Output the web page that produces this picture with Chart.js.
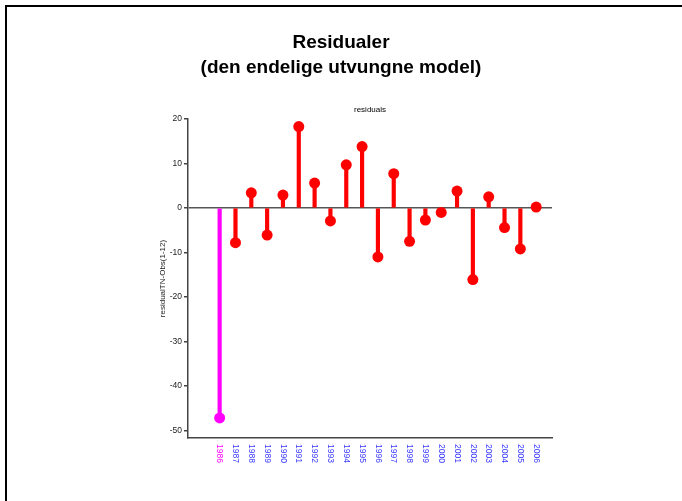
<!DOCTYPE html>
<html>
<head>
<meta charset="utf-8">
<script src="https://cdn.jsdelivr.net/npm/chart.js@4"></script>
<style>
  body { margin: 0; background: #fff; }
</style>
</head>
<body>
<canvas id="resid" width="682" height="501"></canvas>
<script>
const years = [1986, 1987, 1988, 1989, 1990, 1991, 1992, 1993, 1994, 1995, 1996,
               1997, 1998, 1999, 2000, 2001, 2002, 2003, 2004, 2005, 2006];
const residuals = [-47.2, -7.8, 3.4, -6.1, 2.9, 18.3, 5.6, -2.9, 9.7, 13.8, -11.0,
                   7.7, -7.5, -2.7, -1.0, 3.8, -16.1, 2.5, -4.4, -9.2, 0.2];
const yTicks = [20, 10, 0, -10, -20, -30, -40, -50];
const highlightYear = 1986;

const titleLines = ['Residualer', '(den endelige utvungne model)'];
const subTitle = 'residuals';
const yLabel = 'residualTN-Obs(1-12)';

const FONT = '"Liberation Sans", Arial, sans-serif';
const colorFor = (yr) => yr === highlightYear ? '#ff00ff' : '#ff0000';
const pts = years.map((yr, i) => ({x: yr, y: residuals[i]}));

// frame, titles and the rotated year labels
const extras = {
    id: 'extras',
    afterDraw(chart) {
        const ctx = chart.ctx;
        const xs = chart.scales.x;
        ctx.save();
        ctx.strokeStyle = '#000';
        ctx.lineWidth = 2;
        ctx.beginPath();
        ctx.moveTo(6, 501);
        ctx.lineTo(6, 6);
        ctx.lineTo(682, 6);
        ctx.stroke();

        ctx.fillStyle = '#000';
        ctx.textAlign = 'center';
        ctx.textBaseline = 'middle';
        ctx.font = 'bold 19px ' + FONT;
        titleLines.forEach((t, i) => ctx.fillText(t, 341, 43 + i * 25));
        ctx.font = '8px ' + FONT;
        ctx.fillText(subTitle, (chart.chartArea.left + chart.chartArea.right) / 2, 110);

        ctx.font = '8.5px ' + FONT;
        ctx.textAlign = 'left';
        years.forEach((yr) => {
            const x = xs.getPixelForValue(yr);
            ctx.save();
            ctx.translate(x, chart.chartArea.bottom + 6);
            ctx.rotate(Math.PI / 2);
            ctx.fillStyle = yr === highlightYear ? '#ff00ff' : '#3a3aff';
            ctx.fillText(String(yr), 0, 0);
            ctx.restore();
        });
        ctx.restore();
    }
};

new Chart(document.getElementById('resid'), {
    type: 'bar',
    data: {
        datasets: [
            {
                type: 'scatter',
                data: pts,
                pointRadius: 5.5,
                pointHoverRadius: 5.5,
                pointBorderWidth: 0,
                pointBackgroundColor: years.map(colorFor),
                order: 0
            },
            {
                type: 'bar',
                data: pts,
                backgroundColor: years.map(colorFor),
                barThickness: 3.5,
                order: 1
            }
        ]
    },
    options: {
        responsive: false,
        animation: false,
        layout: { padding: { left: 148, right: 130, top: 119, bottom: 13 } },
        plugins: {
            legend: { display: false },
            tooltip: { enabled: false }
        },
        scales: {
            x: {
                type: 'linear',
                min: 1984,
                max: 2007,
                offset: false,
                ticks: { display: false },
                grid: { display: false, offset: false },
                border: { display: true, color: '#444', width: 1.5 },
                afterFit: (s) => { s.height = 50; }
            },
            y: {
                min: -51.7,
                max: 20,
                afterBuildTicks: (s) => { s.ticks = yTicks.map(v => ({value: v})); },
                ticks: { color: '#222', font: { size: 8.5, family: FONT }, padding: 2 },
                grid: {
                    color: (c) => c.tick && c.tick.value === 0 ? '#555' : 'rgba(0,0,0,0)',
                    lineWidth: 1.5,
                    tickColor: '#444',
                    tickLength: 4
                },
                border: { display: true, color: '#444', width: 1.5 },
                title: {
                    display: true,
                    text: yLabel,
                    color: '#222',
                    font: { size: 8, family: FONT },
                    padding: { top: 10, bottom: 0 }
                },
                afterFit: (s) => { s.width = 40; }
            }
        }
    },
    plugins: [extras]
});
</script>
</body>
</html>
